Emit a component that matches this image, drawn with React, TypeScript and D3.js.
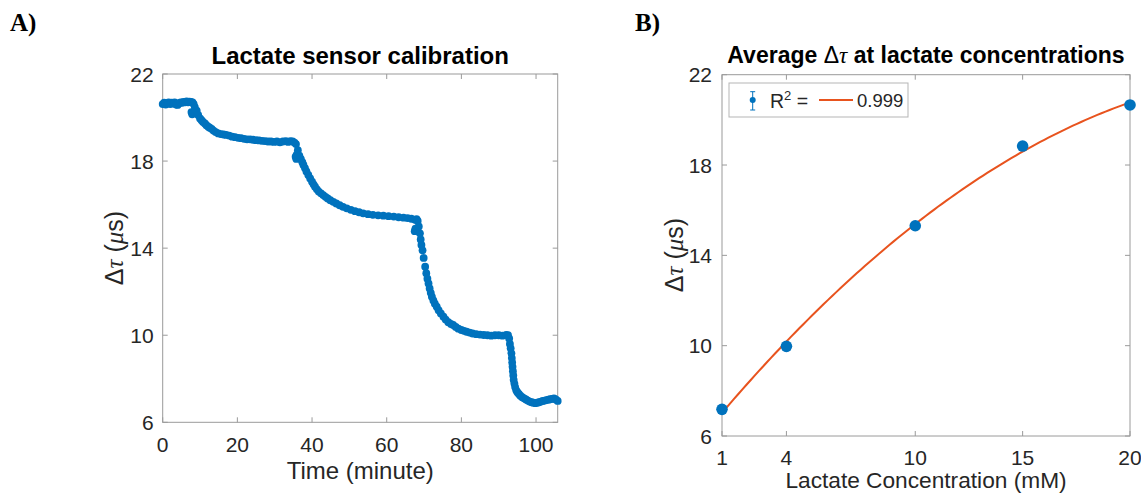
import React from 'react';
import * as d3 from 'd3';

// Panel A: lactate sensor calibration time series [time (min), Δτ (µs)]
const calibrationReadings: [number, number][] = [
  [0, 20.62], [0.4, 20.68], [0.8, 20.6], [1.2, 20.66], [1.6, 20.7], [2, 20.62], [2.4, 20.68], [2.8, 20.64],
  [3.2, 20.7], [3.6, 20.6], [4, 20.58], [4.4, 20.66], [4.8, 20.7], [5.2, 20.68], [5.6, 20.72], [6, 20.7],
  [6.4, 20.74], [6.8, 20.7], [7.2, 20.73], [7.6, 20.72], [8, 20.7], [8.3, 20.62],
  [7.7, 20.25], [7.9, 20.15], [8.1, 20.2],
  [8.6, 20.48], [9.1, 20.32], [9.5, 20.12], [10, 19.96], [10.4, 19.88], [10.8, 19.8], [11.3, 19.73],
  [11.7, 19.65], [12.2, 19.58], [12.6, 19.53], [13.1, 19.48], [13.6, 19.4], [14.2, 19.33], [14.9, 19.27],
  [15.6, 19.24], [16.3, 19.22], [17, 19.2], [17.8, 19.17], [18.6, 19.12], [19.4, 19.1], [20.2, 19.07],
  [21, 19.05], [21.8, 19.02], [22.6, 19.0], [23.4, 19.0], [24.2, 18.98], [25, 18.96], [25.8, 18.95],
  [26.6, 18.93], [27.4, 18.92], [28.2, 18.9], [29, 18.9], [29.8, 18.88], [30.6, 18.9], [31.4, 18.86],
  [32.2, 18.9], [33, 18.92], [33.6, 18.88], [34.2, 18.92], [34.8, 18.9], [35.3, 18.85], [35.7, 18.78],
  [35.6, 18.2], [35.8, 18.1], [35.9, 18.3],
  [36.2, 18.5], [36.6, 18.25], [37, 18.1], [37.4, 17.95], [37.7, 17.82], [38.1, 17.68], [38.5, 17.52],
  [39, 17.36], [39.5, 17.2], [40, 17.05], [40.4, 16.93], [40.8, 16.82], [41.3, 16.7], [41.8, 16.6],
  [42.4, 16.52], [43, 16.44], [43.6, 16.36], [44.2, 16.28], [44.9, 16.2], [45.7, 16.13], [46.5, 16.05],
  [47.4, 15.97], [48.3, 15.9], [49.3, 15.83], [50.4, 15.76], [51.5, 15.7], [52.6, 15.65], [53.7, 15.6],
  [55, 15.56], [56.3, 15.53], [57.7, 15.51], [59.1, 15.49], [60.5, 15.47], [61.9, 15.45], [63.2, 15.42],
  [64.5, 15.4], [65.6, 15.38], [66.6, 15.35], [67.6, 15.3],
  [67.5, 14.78], [67.7, 14.9],
  [68, 15.33], [68.3, 15.25], [68.6, 15.0], [68.9, 14.68], [69.1, 14.4], [69.3, 14.15], [69.6, 13.9],
  [69.9, 13.55], [70.3, 13.15], [70.6, 12.85], [70.9, 12.6], [71.2, 12.38], [71.5, 12.15], [71.8, 11.95],
  [72.1, 11.77], [72.5, 11.6], [72.9, 11.45], [73.4, 11.31], [73.9, 11.15], [74.5, 11.0], [75.2, 10.85],
  [75.8, 10.72], [76.5, 10.6], [77.2, 10.52], [77.8, 10.47], [78.5, 10.38], [79.2, 10.3], [80, 10.24],
  [80.7, 10.2], [81.4, 10.16], [82.2, 10.12], [83, 10.08], [84, 10.05], [85, 10.03], [86, 10.01],
  [87, 10.0], [88, 9.98], [89, 10.0], [90, 10.0], [91, 9.98], [92, 10.02], [92.5, 10.0],
  [92.8, 9.85], [93, 9.6], [93.2, 9.4], [93.4, 9.17], [93.5, 8.95], [93.6, 8.75], [93.7, 8.55],
  [93.8, 8.35], [93.9, 8.15], [94, 7.95], [94.2, 7.78], [94.4, 7.62], [94.7, 7.47], [95, 7.38],
  [95.4, 7.3], [95.8, 7.22], [96.3, 7.15], [96.8, 7.1], [97.3, 7.05], [97.8, 7.0], [98.3, 6.95],
  [98.8, 6.92], [99.3, 6.9], [99.8, 6.88], [100.3, 6.9], [100.8, 6.92], [101.3, 6.95], [101.8, 6.98],
  [102.3, 7.0], [102.8, 7.02], [103.3, 7.04], [103.8, 7.06], [104.3, 7.08], [104.8, 7.1], [105.3, 7.05],
  [105.8, 6.98],
];
const timeTicks = [0, 20, 40, 60, 80, 100];
const deltaTauTicks = [6, 10, 14, 18, 22];

// Panel B: average Δτ at lactate concentrations
const concentrations = [1, 4, 10, 15, 20];
const averageDeltaTau = [7.18, 9.97, 15.31, 18.84, 20.66];
const concentrationTicks = [1, 4, 10, 15, 20];
const rSquaredLabel = '0.999';

// quadratic least-squares fit of panel B data
function quadFit(xs: number[], ys: number[]): number[] {
  const S = (p: number) => d3.sum(xs, (x) => Math.pow(x, p));
  const T = (p: number) => d3.sum(xs, (x, i) => Math.pow(x, p) * ys[i]);
  const A = [
    [S(0), S(1), S(2), T(0)],
    [S(1), S(2), S(3), T(1)],
    [S(2), S(3), S(4), T(2)],
  ];
  for (let i = 0; i < 3; i++) {
    for (let k = i + 1; k < 3; k++) {
      const f = A[k][i] / A[i][i];
      for (let j = i; j < 4; j++) A[k][j] -= f * A[i][j];
    }
  }
  const c = [0, 0, 0];
  for (let i = 2; i >= 0; i--) {
    let s = A[i][3];
    for (let j = i + 1; j < 3; j++) s -= A[i][j] * c[j];
    c[i] = s / A[i][i];
  }
  return c;
}

const BLUE = '#0072BD';
const ORANGE = '#E8531E';
const AXIS = '#9a9a9a';
const TEXT = '#262626';
const FONT = '"Liberation Sans", Arial, Helvetica, sans-serif';
const TICK_FONT = 21;

function DeltaTauLabel({ x, y, size }: { x: number; y: number; size: number }) {
  return (
    <text
      transform={`translate(${x},${y}) rotate(-90)`}
      textAnchor="middle"
      fontSize={size}
      fill={TEXT}
      fontFamily={FONT}
    >
      <tspan>Δ</tspan>
      <tspan fontStyle="italic" fontFamily='"Liberation Serif", serif'>τ</tspan>
      <tspan> (</tspan>
      <tspan fontStyle="italic" fontFamily='"Liberation Serif", serif'>μ</tspan>
      <tspan>s)</tspan>
    </text>
  );
}

function Frame({ x, y, xTicks, yTicks, xLabelDy, yLabelDx }: any) {
  const [x0, x1] = x.range();
  const [y0, y1] = y.range(); // y0 bottom, y1 top
  const tl = 5;
  return (
    <g>
      <rect x={x0} y={y1} width={x1 - x0} height={y0 - y1} fill="none" stroke={AXIS} strokeWidth={1} />
      {xTicks.map((t: number) => (
        <g key={'xt' + t}>
          <line x1={x(t)} x2={x(t)} y1={y0} y2={y0 - tl} stroke={AXIS} />
          <line x1={x(t)} x2={x(t)} y1={y1} y2={y1 + tl} stroke={AXIS} />
          <text x={x(t)} y={y0 + xLabelDy} textAnchor="middle" fontSize={TICK_FONT} fill={TEXT} fontFamily={FONT}>
            {t}
          </text>
        </g>
      ))}
      {yTicks.map((t: number) => (
        <g key={'yt' + t}>
          <line x1={x0} x2={x0 + tl} y1={y(t)} y2={y(t)} stroke={AXIS} />
          <line x1={x1} x2={x1 - tl} y1={y(t)} y2={y(t)} stroke={AXIS} />
          <text x={x0 - yLabelDx} y={y(t) + 7.5} textAnchor="end" fontSize={TICK_FONT} fill={TEXT} fontFamily={FONT}>
            {t}
          </text>
        </g>
      ))}
    </g>
  );
}

export default function App() {
  // Panel A scales
  const xA = d3.scaleLinear().domain([0, 105.8]).range([162.7, 557.7]);
  const yA = d3.scaleLinear().domain([6, 22]).range([422.3, 74]);
  // Panel B scales
  const xB = d3.scaleLinear().domain([1, 20]).range([722, 1130]);
  const yB = d3.scaleLinear().domain([6, 22]).range([436, 74.7]);

  const coef = quadFit(concentrations, averageDeltaTau);
  const fitXs = d3.range(0, 101).map((i) => 1 + (19 * i) / 100);
  const fitLine = d3
    .line<number>()
    .x((c) => xB(c))
    .y((c) => yB(coef[0] + coef[1] * c + coef[2] * c * c))
    .curve(d3.curveLinear);

  return (
    <svg
      width={1141}
      height={496}
      style={{ position: 'absolute', left: 0, top: 0, background: '#fff' }}
    >
      <rect width={1141} height={496} fill="#fff" />
      {/* Panel labels */}
      <text x={10} y={31} fontSize={25} fontWeight="bold" fontFamily='"Liberation Serif", "Times New Roman", serif' fill="#000">
        A)
      </text>
      <text x={635} y={31} fontSize={25} fontWeight="bold" fontFamily='"Liberation Serif", "Times New Roman", serif' fill="#000">
        B)
      </text>

      {/* Panel A */}
      <text x={(162.7 + 557.7) / 2} y={64} textAnchor="middle" fontSize={24} fontWeight="bold" fontFamily={FONT} fill="#000">
        Lactate sensor calibration
      </text>
      <Frame x={xA} y={yA} xTicks={timeTicks} yTicks={deltaTauTicks} xLabelDy={30} yLabelDx={9} />
      <g>
        {calibrationReadings.map(([t, v], i) => (
          <circle key={i} cx={xA(t)} cy={yA(v)} r={3.9} fill={BLUE} />
        ))}
      </g>
      <text x={(162.7 + 557.7) / 2} y={479} textAnchor="middle" fontSize={24} fill={TEXT} fontFamily={FONT}>
        Time (minute)
      </text>
      <DeltaTauLabel x={123} y={248} size={25} />

      {/* Panel B */}
      <text x={(722 + 1130) / 2} y={63} textAnchor="middle" fontSize={23} fontWeight="bold" fontFamily={FONT} fill="#000">
        <tspan>Average </tspan>
        <tspan fontWeight="normal">Δ</tspan>
        <tspan fontStyle="italic" fontWeight="normal" fontFamily='"Liberation Serif", serif'>τ</tspan>
        <tspan> at lactate concentrations</tspan>
      </text>
      <Frame x={xB} y={yB} xTicks={concentrationTicks} yTicks={deltaTauTicks} xLabelDy={29} yLabelDx={10} />
      <path d={fitLine(fitXs) || ''} fill="none" stroke={ORANGE} strokeWidth={2} />
      <g>
        {concentrations.map((c, i) => (
          <circle key={i} cx={xB(c)} cy={yB(averageDeltaTau[i])} r={5.8} fill={BLUE} />
        ))}
      </g>
      <text x={(722 + 1130) / 2} y={488} textAnchor="middle" fontSize={22.7} fill={TEXT} fontFamily={FONT}>
        Lactate Concentration (mM)
      </text>
      <DeltaTauLabel x={683} y={255} size={25} />

      {/* Legend */}
      <g>
        <rect x={729} y={83} width={179} height={34} fill="#fff" stroke="#b5b5b5" strokeWidth={1} />
        <line x1={752.7} x2={752.7} y1={91.7} y2={110} stroke={BLUE} strokeWidth={1} />
        <line x1={750.2} x2={755.2} y1={91.7} y2={91.7} stroke={BLUE} strokeWidth={1} />
        <line x1={750.2} x2={755.2} y1={110} y2={110} stroke={BLUE} strokeWidth={1} />
        <circle cx={752.7} cy={100} r={3} fill={BLUE} />
        <text x={770} y={108} fontSize={19.5} fill={TEXT} fontFamily={FONT}>
          R<tspan dy={-8} fontSize={13}>2</tspan>
          <tspan dy={8}> =</tspan>
        </text>
        <line x1={819} x2={853} y1={100} y2={100} stroke={ORANGE} strokeWidth={2} />
        <text x={857} y={107} fontSize={18.5} fill={TEXT} fontFamily={FONT}>
          {rSquaredLabel}
        </text>
      </g>
    </svg>
  );
}
